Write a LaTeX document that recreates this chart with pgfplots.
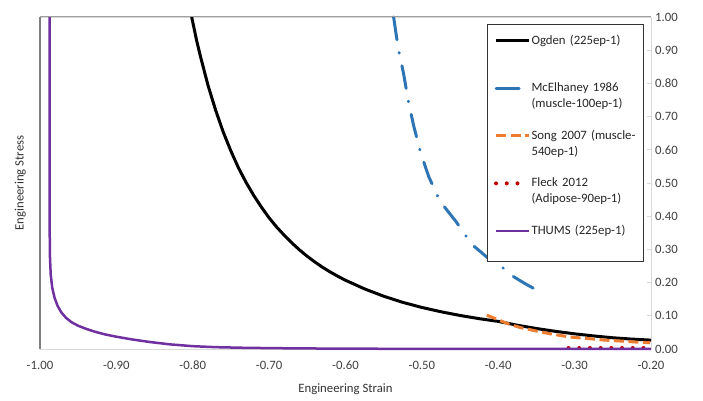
\documentclass[border=0pt]{standalone}
\usepackage{fontspec}
\setmainfont{Carlito}
\usepackage{pgfplots}
\pgfplotsset{compat=1.18}
\definecolor{mcblue}{HTML}{2E75B6}
\definecolor{songorange}{HTML}{ED7D31}
\definecolor{fleckred}{HTML}{C00000}
\definecolor{thumspurple}{HTML}{7030A0}
\definecolor{framegray}{HTML}{D9D9D9}
\pgfplotsset{
  long legend/.style={legend image code/.code={\draw[##1] (0bp,3.5bp) -- (33bp,3.5bp);}},
  short legend/.style={legend image code/.code={\draw[##1] (0bp,3.5bp) -- (23bp,3.5bp);}},
}

\begin{document}
\begin{tikzpicture}
\useasboundingbox (-40bp,-52bp) rectangle (663bp,349bp);
\begin{axis}[
  at={(0,0)}, anchor=south west,
  scale only axis, width=611bp, height=332bp,
  xmin=-1, xmax=-0.2, ymin=0, ymax=1,
  xtick={-1,-0.9,-0.8,-0.7,-0.6,-0.5,-0.4,-0.3,-0.2},
  ytick={0,0.1,0.2,0.3,0.4,0.5,0.6,0.7,0.8,0.9,1},
  /pgf/number format/assume math mode=true,
  /pgf/number format/fixed, /pgf/number format/fixed zerofill,
  /pgf/number format/precision=2,
  axis line style={draw=framegray, line width=0.8bp},
  x tick style={draw=none},
  ytick pos=right, yticklabel pos=right,
  y tick style={draw=framegray, line width=0.8bp},
  tick align=inside, major tick length=4bp,
  tick label style={font=\fontsize{12.8}{15}\selectfont, text=black!75},
  xticklabel style={inner sep=0pt, anchor=north, yshift=-12bp},
  yticklabel style={inner sep=0pt, anchor=west, xshift=4bp},
  xlabel={Engineering Strain}, ylabel={Engineering Stress},
  every axis x label/.style={at={(axis description cs:0.5,-0.1325)}, anchor=base, inner sep=0pt,
    font=\fontsize{12.8}{15}\selectfont, text=black!80},
  every axis y label/.style={at={(axis description cs:-0.023,0.5)}, rotate=90, anchor=south, inner sep=0pt,
    font=\fontsize{12.8}{15}\selectfont, text=black!80},
  clip=false,
  long legend,
  legend style={
    at={(axis description cs:0.9885,0.979)}, anchor=north east,
    draw=black!80, line width=0.8bp, fill=white,
    inner xsep=7bp, inner ysep=0bp, row sep=0pt, column sep=1bp,
    font=\fontsize{12.8}{16}\selectfont, text=black!85,
    cells={anchor=base west},
    nodes={inner sep=0pt, text width=105bp, align=left, text height=20bp, text depth=27.5bp},
  },
]
% Ogden
\addplot[black, line width=3bp, mark=none] coordinates {
(-0.8014,1.000) (-0.795,0.930) (-0.790,0.882) (-0.780,0.794) (-0.770,0.719)
(-0.760,0.653) (-0.750,0.596) (-0.740,0.545) (-0.730,0.501) (-0.720,0.462)
(-0.710,0.427) (-0.700,0.395) (-0.690,0.367) (-0.680,0.342) (-0.670,0.319)
(-0.660,0.298) (-0.650,0.279) (-0.640,0.262) (-0.630,0.246) (-0.620,0.232)
(-0.610,0.219) (-0.600,0.207) (-0.575,0.181) (-0.550,0.159) (-0.525,0.1405)
(-0.500,0.1252) (-0.475,0.1122) (-0.450,0.1010) (-0.425,0.0914) (-0.400,0.0831)
(-0.375,0.0716) (-0.350,0.0617) (-0.325,0.0531) (-0.300,0.0457) (-0.275,0.0393)
(-0.250,0.0338) (-0.225,0.0298) (-0.200,0.0267)};
% McElhaney
\addplot[mcblue, line width=3bp, mark=none, line cap=round,
  dash pattern=on 23bp off 13bp on 0.5bp off 13bp] coordinates {
(-0.537,1.000) (-0.531,0.906) (-0.524,0.830) (-0.518,0.750) (-0.511,0.675)
(-0.502,0.594) (-0.491,0.519) (-0.476,0.444) (-0.455,0.383) (-0.435,0.316)
(-0.413,0.273) (-0.393,0.243) (-0.380,0.218) (-0.365,0.197) (-0.350,0.178)};
% Song
\addplot[songorange, line width=3bp, mark=none, dash pattern=on 10bp off 4.5bp] coordinates {
(-0.415,0.102) (-0.400,0.088) (-0.385,0.074) (-0.370,0.064) (-0.350,0.054)
(-0.330,0.045) (-0.306,0.036) (-0.280,0.031) (-0.262,0.027) (-0.240,0.024)
(-0.220,0.021) (-0.201,0.019)};
% Fleck
\addplot[fleckred, line width=4bp, mark=none, line cap=round, dash pattern=on 0bp off 10.7bp,
  short legend] coordinates {
(-0.308,0.003) (-0.280,0.003) (-0.250,0.003) (-0.220,0.003) (-0.200,0.003)};
% THUMS
\addplot[thumspurple, line width=2.5bp, mark=none] coordinates {
(-0.9875,1.000) (-0.9875,0.400) (-0.9870,0.280) (-0.9860,0.225) (-0.9840,0.185)
(-0.9810,0.155) (-0.9770,0.130) (-0.9720,0.110) (-0.9660,0.094) (-0.9590,0.081)
(-0.9500,0.070) (-0.9400,0.061) (-0.9280,0.052) (-0.9150,0.044) (-0.9000,0.037)
(-0.8800,0.029) (-0.8560,0.021) (-0.8300,0.014) (-0.8000,0.0085) (-0.7700,0.0055)
(-0.7300,0.0035) (-0.6800,0.0022) (-0.6200,0.0012) (-0.5500,0.0007) (-0.4000,0.0003)
(-0.2000,0.0001)};
\legend{Ogden (225ep-1), McElhaney 1986\\(muscle-100ep-1), Song 2007 (muscle-\\540ep-1), Fleck 2012\\(Adipose-90ep-1), THUMS (225ep-1)}
\draw[gray!75, line width=1bp] (rel axis cs:0,1) -- (rel axis cs:1,1);
\draw[black!50, line width=1.6bp] (rel axis cs:0,0) -- (rel axis cs:0,1);
\end{axis}
\end{tikzpicture}
\end{document}
